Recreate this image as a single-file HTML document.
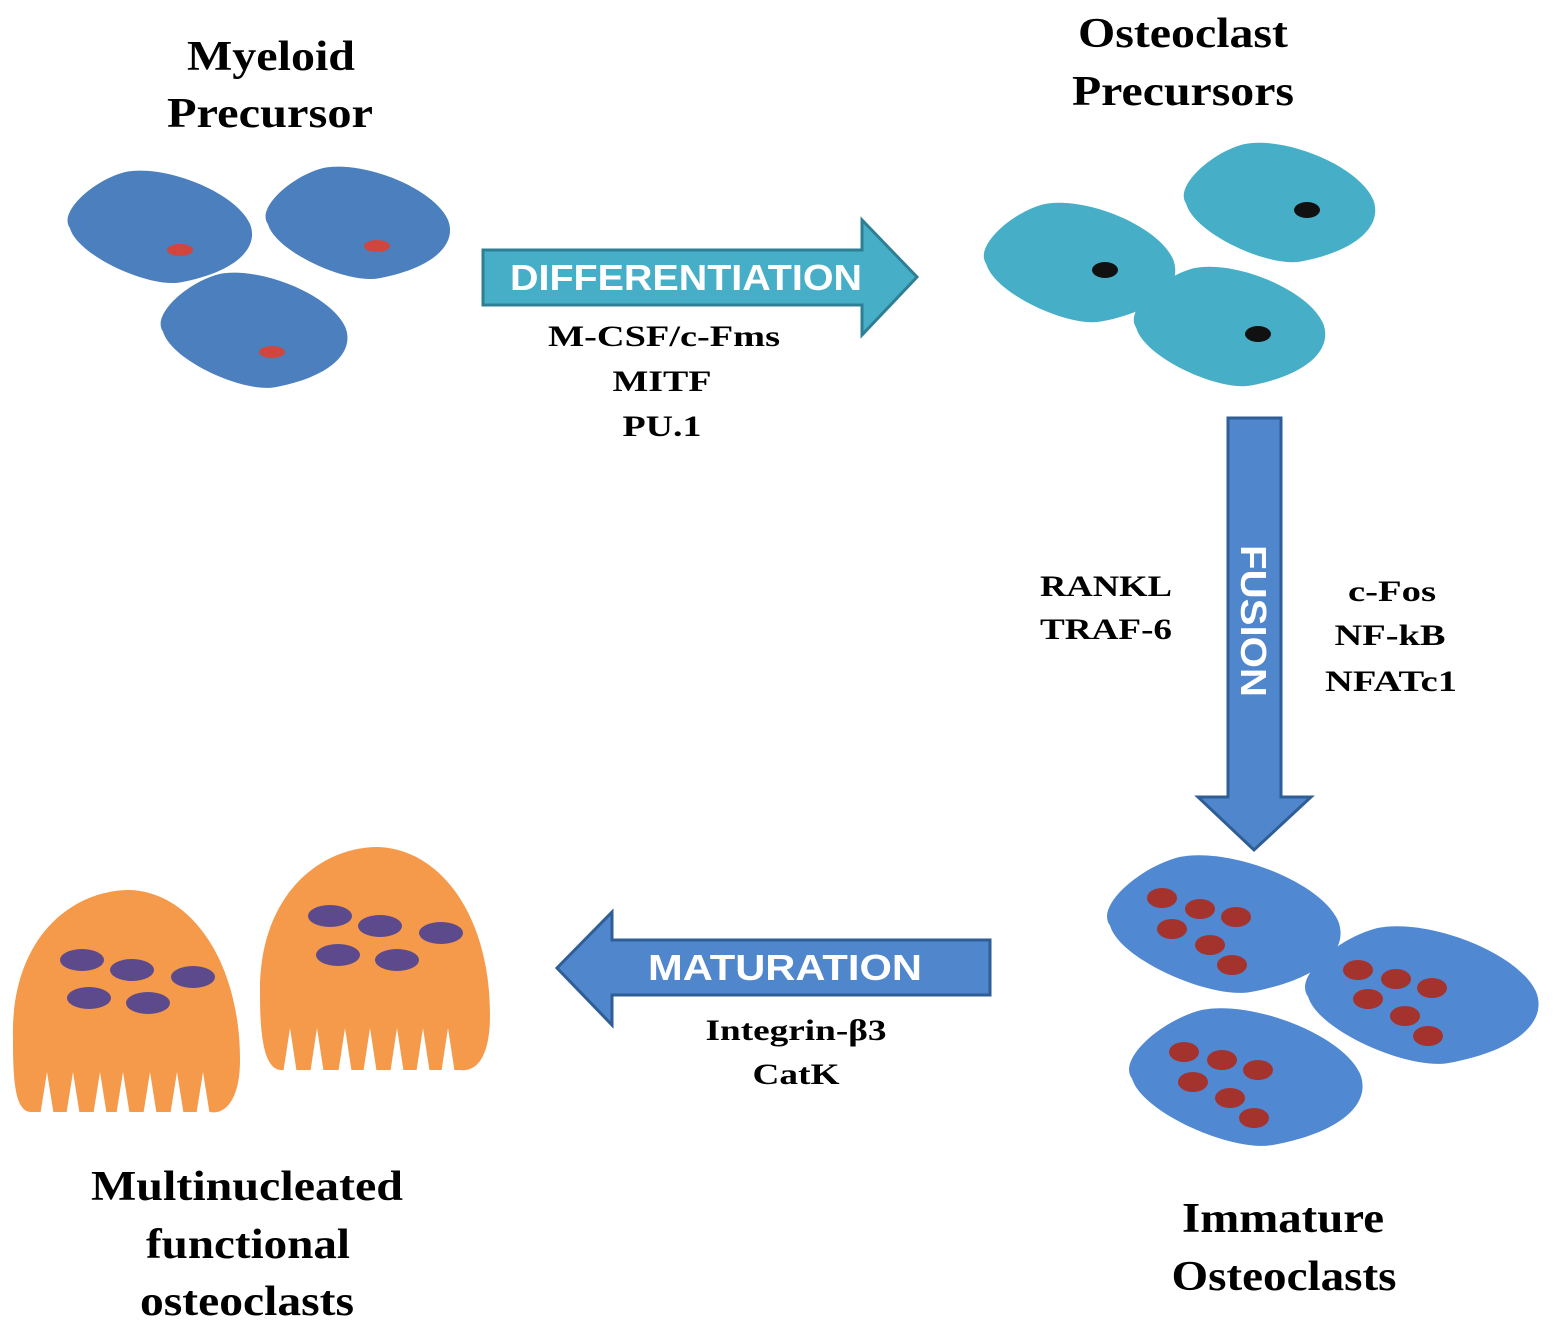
<!DOCTYPE html>
<html><head><meta charset="utf-8"><style>
body{margin:0;background:#fff}
svg{display:block}
.t{font-family:"Liberation Serif",serif;font-weight:bold;fill:#000;text-anchor:middle}
.a{font-family:"Liberation Sans",sans-serif;font-weight:bold;fill:#fff;text-anchor:middle}
</style></head><body>
<svg width="1555" height="1331" viewBox="0 0 1555 1331" xmlns="http://www.w3.org/2000/svg">
<defs>
<path id="cell" d="M10,75 C-5,55 40,15 80,5 C130,-5 220,30 238,70 C250,100 220,130 150,143 C110,150 20,110 10,75Z"/>
</defs>
<!-- titles -->
<text class="t" x="271" y="70" font-size="42" textLength="168" lengthAdjust="spacingAndGlyphs">Myeloid</text>
<text class="t" x="270" y="127" font-size="42" textLength="206" lengthAdjust="spacingAndGlyphs">Precursor</text>
<text class="t" x="1183" y="47" font-size="42" textLength="210" lengthAdjust="spacingAndGlyphs">Osteoclast</text>
<text class="t" x="1183" y="105" font-size="42" textLength="222" lengthAdjust="spacingAndGlyphs">Precursors</text>
<text class="t" x="1283" y="1232" font-size="42" textLength="202" lengthAdjust="spacingAndGlyphs">Immature</text>
<text class="t" x="1284" y="1290" font-size="42" textLength="225" lengthAdjust="spacingAndGlyphs">Osteoclasts</text>
<text class="t" x="247" y="1200" font-size="42" textLength="312" lengthAdjust="spacingAndGlyphs">Multinucleated</text>
<text class="t" x="248" y="1258" font-size="42" textLength="204" lengthAdjust="spacingAndGlyphs">functional</text>
<text class="t" x="247" y="1315" font-size="42" textLength="214" lengthAdjust="spacingAndGlyphs">osteoclasts</text>

<!-- myeloid cells -->
<g fill="#4b7fbe">
<use href="#cell" transform="translate(62,168) scale(0.79,0.8)"/>
<use href="#cell" transform="translate(260,164) scale(0.79,0.8)"/>
<use href="#cell" transform="translate(155,270) scale(0.8,0.82)"/>
</g>
<g fill="#d0463e"><ellipse cx="180" cy="250" rx="13" ry="6"/><ellipse cx="377" cy="246" rx="13" ry="6"/><ellipse cx="272" cy="352" rx="13" ry="6"/></g>

<!-- osteoclast precursors -->
<g fill="#46afc7">
<use href="#cell" transform="translate(978,200) scale(0.82,0.85)"/>
<use href="#cell" transform="translate(1178,140) scale(0.82,0.85)"/>
<use href="#cell" transform="translate(1128,264) scale(0.82,0.85)"/>
</g>
<g fill="#111"><ellipse cx="1105" cy="270" rx="13" ry="8"/><ellipse cx="1307" cy="210" rx="13" ry="8"/><ellipse cx="1258" cy="334" rx="13" ry="8"/></g>

<!-- differentiation arrow -->
<path d="M483,250 H862 V220 L917,277 L862,335 V305 H483Z" fill="#46afc7" stroke="#2e7f94" stroke-width="3"/>
<text class="a" x="686" y="290" font-size="36" textLength="352" lengthAdjust="spacingAndGlyphs">DIFFERENTIATION</text>
<text class="t" x="664" y="346" font-size="30" textLength="232" lengthAdjust="spacingAndGlyphs">M-CSF/c-Fms</text>
<text class="t" x="662" y="391" font-size="30" textLength="99" lengthAdjust="spacingAndGlyphs">MITF</text>
<text class="t" x="662" y="436" font-size="30" textLength="79" lengthAdjust="spacingAndGlyphs">PU.1</text>

<!-- fusion arrow -->
<path d="M1228,418 H1281 V797 H1311 L1254,850 L1198,797 H1228Z" fill="#4f86cc" stroke="#2f5e96" stroke-width="3"/>
<text class="a" font-size="36" transform="translate(1241,621) rotate(90)" textLength="152" lengthAdjust="spacingAndGlyphs">FUSION</text>
<text class="t" x="1106" y="596" font-size="30" textLength="132" lengthAdjust="spacingAndGlyphs">RANKL</text>
<text class="t" x="1106" y="639" font-size="30" textLength="132" lengthAdjust="spacingAndGlyphs">TRAF-6</text>
<text class="t" x="1392" y="601" font-size="30" textLength="88" lengthAdjust="spacingAndGlyphs">c-Fos</text>
<text class="t" x="1390" y="645" font-size="30" textLength="111" lengthAdjust="spacingAndGlyphs">NF-kB</text>
<text class="t" x="1391" y="691" font-size="30" textLength="132" lengthAdjust="spacingAndGlyphs">NFATc1</text>

<!-- immature osteoclasts -->
<g fill="#5088d2">
<use href="#cell" transform="translate(1100,852) scale(1,0.98)"/>
<use href="#cell" transform="translate(1298,923) scale(1,0.98)"/>
<use href="#cell" transform="translate(1122,1005) scale(1,0.98)"/>
</g>
<g fill="#a4332e">
<ellipse cx="1162" cy="898" rx="15" ry="10"/><ellipse cx="1200" cy="909" rx="15" ry="10"/><ellipse cx="1236" cy="917" rx="15" ry="10"/><ellipse cx="1172" cy="929" rx="15" ry="10"/><ellipse cx="1210" cy="945" rx="15" ry="10"/><ellipse cx="1232" cy="965" rx="15" ry="10"/>
<ellipse cx="1358" cy="970" rx="15" ry="10"/><ellipse cx="1396" cy="979" rx="15" ry="10"/><ellipse cx="1432" cy="988" rx="15" ry="10"/><ellipse cx="1368" cy="999" rx="15" ry="10"/><ellipse cx="1405" cy="1016" rx="15" ry="10"/><ellipse cx="1428" cy="1036" rx="15" ry="10"/>
<ellipse cx="1184" cy="1052" rx="15" ry="10"/><ellipse cx="1222" cy="1060" rx="15" ry="10"/><ellipse cx="1258" cy="1070" rx="15" ry="10"/><ellipse cx="1193" cy="1082" rx="15" ry="10"/><ellipse cx="1230" cy="1098" rx="15" ry="10"/><ellipse cx="1254" cy="1118" rx="15" ry="10"/>
</g>

<!-- maturation arrow -->
<path d="M990,940 V995 H612 V1025 L557,968 L612,912 V940Z" fill="#4f86cc" stroke="#2f5e96" stroke-width="3"/>
<text class="a" x="785" y="980" font-size="36" textLength="274" lengthAdjust="spacingAndGlyphs">MATURATION</text>
<text class="t" x="796" y="1040" font-size="30" textLength="181" lengthAdjust="spacingAndGlyphs">Integrin-β3</text>
<text class="t" x="796" y="1084" font-size="30" textLength="87" lengthAdjust="spacingAndGlyphs">CatK</text>

<!-- orange osteoclasts -->
<g fill="#f5994a">
<path d="M13,1040 C10,940 70,890 130,890 C190,892 240,960 240,1060 C240,1100 225,1115 210,1112 L30,1112 C15,1110 13,1080 13,1040Z"/>
<path d="M260,995 C258,895 320,847 378,847 C440,849 490,915 490,1015 C490,1060 475,1072 460,1070 L280,1070 C265,1068 260,1040 260,995Z"/>
</g>
<g fill="#fff">
<path d="M40,1116 L47,1072 L54,1116Z"/><path d="M66,1116 L73,1072 L80,1116Z"/><path d="M93,1116 L100,1072 L107,1116Z"/><path d="M116,1116 L123,1072 L130,1116Z"/><path d="M143,1116 L150,1072 L157,1116Z"/><path d="M170,1116 L177,1072 L184,1116Z"/><path d="M196,1116 L203,1072 L210,1116Z"/>
<path d="M283,1074 L290,1028 L297,1074Z"/><path d="M310,1074 L317,1028 L324,1074Z"/><path d="M338,1074 L345,1028 L352,1074Z"/><path d="M363,1074 L370,1028 L377,1074Z"/><path d="M390,1074 L397,1028 L404,1074Z"/><path d="M416,1074 L423,1028 L430,1074Z"/><path d="M441,1074 L448,1028 L455,1074Z"/>
</g>
<g fill="#5c4a8c">
<ellipse cx="82" cy="960" rx="22" ry="11"/><ellipse cx="132" cy="970" rx="22" ry="11"/><ellipse cx="193" cy="977" rx="22" ry="11"/><ellipse cx="89" cy="998" rx="22" ry="11"/><ellipse cx="148" cy="1003" rx="22" ry="11"/>
<ellipse cx="330" cy="916" rx="22" ry="11"/><ellipse cx="380" cy="926" rx="22" ry="11"/><ellipse cx="441" cy="933" rx="22" ry="11"/><ellipse cx="338" cy="955" rx="22" ry="11"/><ellipse cx="397" cy="960" rx="22" ry="11"/>
</g>
</svg>
</body></html>
